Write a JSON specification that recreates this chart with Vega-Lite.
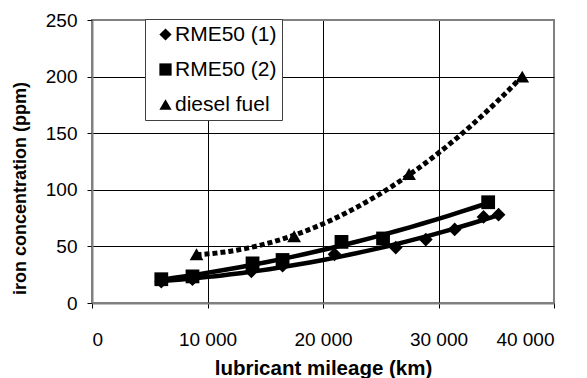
{
  "$schema": "https://vega.github.io/schema/vega-lite/v6.json",
  "autosize": {"type": "none"},
  "padding": {"left": 92, "top": 20, "right": 33, "bottom": 75},
  "width": 462,
  "height": 283,
  "config": {
    "font": "Liberation Sans",
    "view": {"stroke": "#808080", "strokeWidth": 2},
    "axis": {
      "labelFont": "Liberation Sans",
      "titleFont": "Liberation Sans",
      "labelFontSize": 19,
      "titleFontSize": 20.5,
      "titleFontWeight": "bold",
      "labelColor": "black",
      "titleColor": "black",
      "domainColor": "#808080",
      "domainWidth": 2,
      "tickColor": "black",
      "tickSize": 5,
      "tickWidth": 1,
      "gridWidth": 1
    },
    "legend": {
      "labelFont": "Liberation Sans",
      "labelFontSize": 21,
      "labelColor": "black"
    }
  },
  "data": {
    "values": [
      {"series": "RME50 (1)", "km": 6000, "fe": 19},
      {"series": "RME50 (1)", "km": 8700, "fe": 21},
      {"series": "RME50 (1)", "km": 13800, "fe": 28},
      {"series": "RME50 (1)", "km": 16500, "fe": 33},
      {"series": "RME50 (1)", "km": 21000, "fe": 43},
      {"series": "RME50 (1)", "km": 26300, "fe": 49},
      {"series": "RME50 (1)", "km": 28900, "fe": 56},
      {"series": "RME50 (1)", "km": 31400, "fe": 65},
      {"series": "RME50 (1)", "km": 33900, "fe": 76},
      {"series": "RME50 (1)", "km": 35200, "fe": 78},
      {"series": "RME50 (2)", "km": 6000, "fe": 21},
      {"series": "RME50 (2)", "km": 8700, "fe": 23.5},
      {"series": "RME50 (2)", "km": 13900, "fe": 35},
      {"series": "RME50 (2)", "km": 16500, "fe": 38},
      {"series": "RME50 (2)", "km": 21600, "fe": 54},
      {"series": "RME50 (2)", "km": 25200, "fe": 57},
      {"series": "RME50 (2)", "km": 34300, "fe": 89},
      {"series": "diesel fuel", "km": 9050, "fe": 43},
      {"series": "diesel fuel", "km": 17500, "fe": 59},
      {"series": "diesel fuel", "km": 27450, "fe": 114},
      {"series": "diesel fuel", "km": 37250, "fe": 200}
    ]
  },
  "encoding": {
    "x": {
      "field": "km", "type": "quantitative",
      "scale": {"domain": [0, 40000], "nice": false},
      "axis": {
        "values": [0, 10000, 20000, 30000, 40000],
        "labelExpr": "replace(format(datum.value, ','), ',', ' ')",
        "labelPadding": 22,
        "title": "lubricant mileage (km)",
        "titleY": 71,
        "titleBaseline": "alphabetic",
        "gridColor": {"condition": {"test": "datum.value == 40000", "value": "#808080"}, "value": "black"}
      }
    },
    "y": {
      "field": "fe", "type": "quantitative",
      "scale": {"domain": [0, 250], "nice": false},
      "axis": {
        "values": [0, 50, 100, 150, 200, 250],
        "labelPadding": 10,
        "title": "iron concentration (ppm)",
        "titleFontSize": 18,
        "titleX": -72,
        "titleY": 168,
        "titleAngle": 270,
        "titleAlign": "center",
        "titleBaseline": "middle",
        "gridColor": {"condition": {"test": "datum.value == 250", "value": "#808080"}, "value": "black"}
      }
    }
  },
  "layer": [
    {
      "transform": [
        {"filter": "datum.series != 'diesel fuel'"},
        {"regression": "fe", "on": "km", "groupby": ["series"], "method": "poly", "order": 2}
      ],
      "mark": {"type": "line", "color": "black", "strokeWidth": 4.5},
      "encoding": {"detail": {"field": "series"}}
    },
    {
      "transform": [
        {"filter": "datum.series == 'diesel fuel'"},
        {"regression": "fe", "on": "km", "method": "poly", "order": 2}
      ],
      "mark": {"type": "line", "color": "black", "strokeWidth": 5, "strokeDash": [5, 3], "strokeCap": "butt"},
      "encoding": {}
    },
    {
      "mark": {"type": "point", "filled": true, "color": "black", "opacity": 1, "size": 190},
      "encoding": {
        "shape": {
          "field": "series", "type": "nominal",
          "scale": {"domain": ["RME50 (1)", "RME50 (2)", "diesel fuel"], "range": ["diamond", "square", "triangle-up"]},
          "legend": {
            "title": null,
            "orient": "none",
            "legendX": 53,
            "legendY": -1,
            "fillColor": "white",
            "strokeColor": "#404040",
            "padding": 5,
            "rowPadding": 13,
            "symbolSize": 150,
            "symbolFillColor": "black",
            "symbolStrokeColor": "black",
            "symbolOpacity": 1,
            "symbolOffset": 5,
            "labelOffset": -1
          }
        }
      }
    }
  ]
}
